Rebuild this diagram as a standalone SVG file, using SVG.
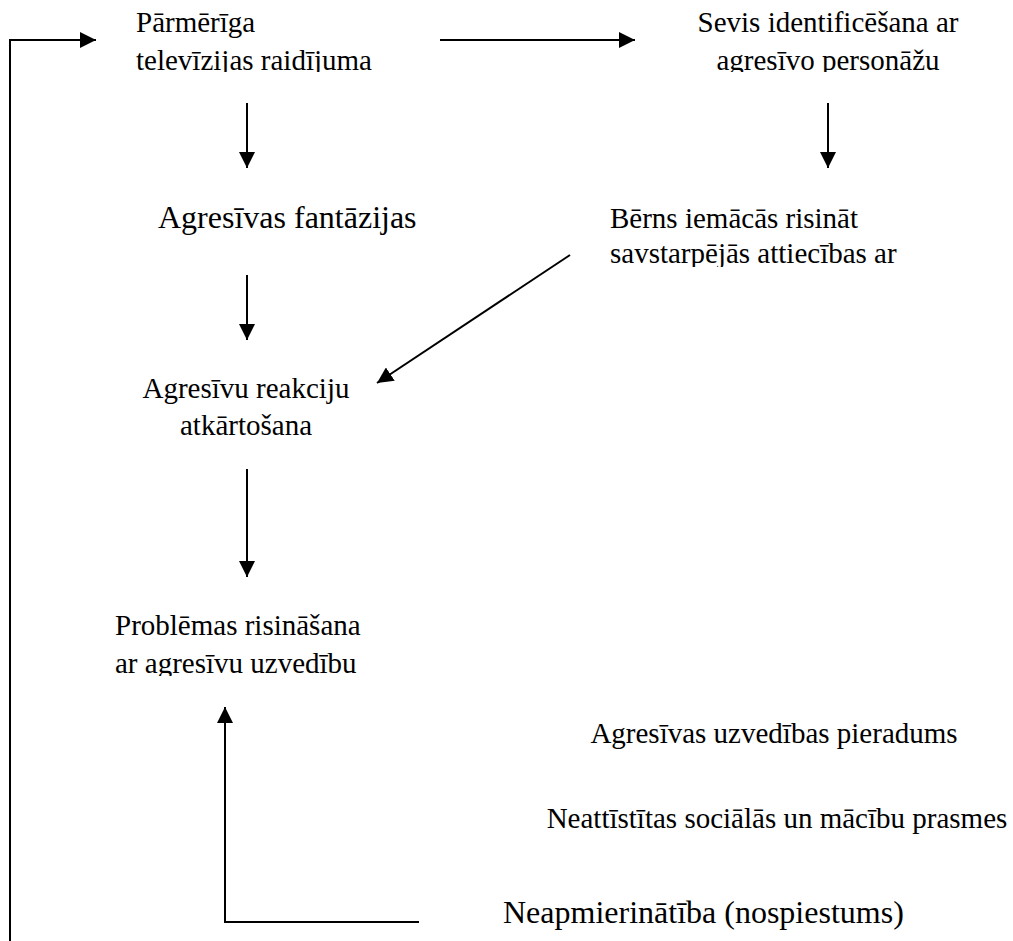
<svg xmlns="http://www.w3.org/2000/svg" width="1013" height="941" viewBox="0 0 1013 941">
<style>
.t{font-family:"Liberation Serif","Times New Roman",serif;font-size:29px;fill:#000}
.big{font-size:32px}
.c{text-anchor:middle}
.ln{stroke:#000;stroke-width:2;fill:none}
</style>
<defs>
<marker id="ah" markerUnits="userSpaceOnUse" markerWidth="16" markerHeight="16" viewBox="0 0 16 16" refX="16" refY="8" orient="auto">
<path d="M0,0 L16,8 L0,16 z" fill="#000"/>
</marker>
<clipPath id="clipA"><rect x="100" y="0" width="320" height="72"/></clipPath>
<clipPath id="clipB"><rect x="660" y="0" width="340" height="72"/></clipPath>
<clipPath id="clipC"><rect x="590" y="190" width="360" height="77"/></clipPath>
<clipPath id="clipD"><rect x="100" y="600" width="300" height="76"/></clipPath>
</defs>
<rect width="1013" height="941" fill="#fff"/>
<g id="connectors">
<path class="ln" d="M10,941 L10,40 L96,40" marker-end="url(#ah)"/>
<path class="ln" d="M440,40 L635,40" marker-end="url(#ah)"/>
<path class="ln" d="M247,103 L247,168" marker-end="url(#ah)"/>
<path class="ln" d="M828,103 L828,168" marker-end="url(#ah)"/>
<path class="ln" d="M247,275 L247,340" marker-end="url(#ah)"/>
<path class="ln" d="M570,255 L377,383" marker-end="url(#ah)"/>
<path class="ln" d="M247,469 L247,577" marker-end="url(#ah)"/>
<path class="ln" d="M419,922 L225,922 L225,707" marker-end="url(#ah)"/>
</g>
<g id="n-parmeriga" clip-path="url(#clipA)">
<text class="t" x="136" y="32">Pārmērīga</text>
<text class="t" x="136" y="70">televīzijas raidījuma</text>
</g>
<g id="n-sevis" clip-path="url(#clipB)">
<text class="t c" x="828" y="32">Sevis identificēšana ar</text>
<text class="t c" x="828" y="70">agresīvo personāžu</text>
</g>
<g id="n-fantazijas">
<text class="t big" x="158" y="228">Agresīvas fantāzijas</text>
</g>
<g id="n-berns" clip-path="url(#clipC)">
<text class="t" x="610" y="228">Bērns iemācās risināt</text>
<text class="t" x="610" y="263">savstarpējās attiecības ar</text>
</g>
<g id="n-reakciju">
<text class="t c" x="246" y="398">Agresīvu reakciju</text>
<text class="t c" x="246" y="435">atkārtošana</text>
</g>
<g id="n-problemas" clip-path="url(#clipD)">
<text class="t" x="115" y="635">Problēmas risināšana</text>
<text class="t" x="115" y="673">ar agresīvu uzvedību</text>
</g>
<g id="n-pieradums">
<text class="t c" x="774" y="743">Agresīvas uzvedības pieradums</text>
</g>
<g id="n-prasmes">
<text class="t c" x="777" y="828">Neattīstītas sociālās un mācību prasmes</text>
</g>
<g id="n-neapmierinatiba">
<text class="t big" x="503" y="923">Neapmierinātība (nospiestums)</text>
</g>
</svg>
